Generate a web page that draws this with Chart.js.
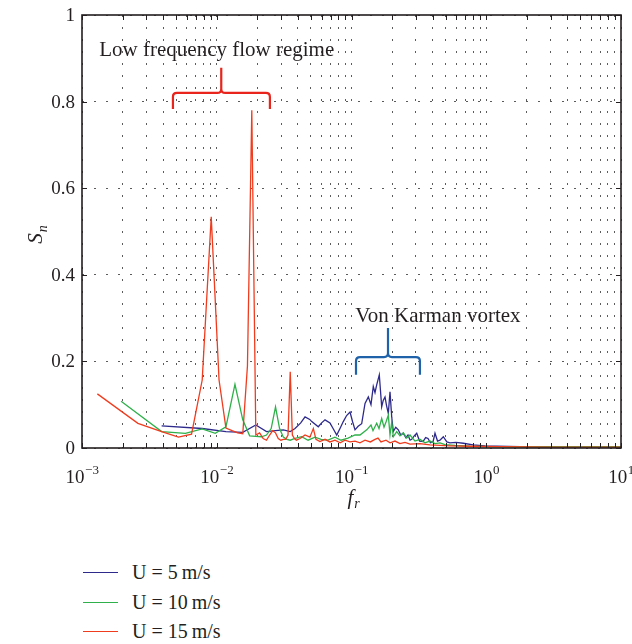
<!DOCTYPE html>
<html>
<head>
<meta charset="utf-8">
<script src="https://cdn.jsdelivr.net/npm/chart.js@4.4.0/dist/chart.umd.min.js"></script>
<style>
  html, body { margin: 0; padding: 0; background: #fff; }
  #wrap { position: relative; width: 632px; height: 644px; }
  #legend { position: absolute; left: 83px; top: 558px; font-family: "Liberation Serif", "DejaVu Serif", serif; font-size: 20px; color: #231f20; }
  .item { height: 29.5px; display: flex; align-items: center; white-space: pre; }
  .swatch { width: 35px; height: 0; border-top: 1.5px solid; margin-right: 14px; }
</style>
</head>
<body>
<div id="wrap">
  <canvas id="spectrumChart" width="632" height="530"></canvas>
  <div id="legend"></div>
</div>
<script>
// U = 5 m/s
const freq5 = [0.0039, 0.0078, 0.0117, 0.0156, 0.0195, 0.0234, 0.0273, 0.0312, 0.0351, 0.0381,
  0.0420, 0.0452, 0.0490, 0.0507, 0.0567, 0.0600, 0.0636, 0.0692, 0.0730, 0.0777,
  0.0830, 0.0869, 0.0920, 0.0975, 0.1020, 0.1062, 0.1120, 0.1190, 0.1260, 0.1333,
  0.1395, 0.1451, 0.1494, 0.1538, 0.1608, 0.1675, 0.1720, 0.1773, 0.1820, 0.1876,
  0.1931, 0.1990, 0.2043, 0.2130, 0.2225, 0.2320, 0.2423, 0.2530, 0.2626, 0.2720,
  0.2798, 0.2920, 0.3048, 0.3200, 0.3394, 0.3550, 0.3696, 0.3850, 0.4025, 0.4165,
  0.4350, 0.4538, 0.4801, 0.5100, 0.5383, 0.5965, 0.6756, 0.7974, 0.979, 1.196,
  1.78, 2.505, 4.183, 6.986, 10];
const sn5 = [0.051, 0.045, 0.038, 0.036, 0.053, 0.038, 0.040, 0.042, 0.038, 0.045,
  0.058, 0.072, 0.066, 0.061, 0.049, 0.058, 0.065, 0.058, 0.045, 0.030,
  0.048, 0.061, 0.075, 0.083, 0.060, 0.042, 0.050, 0.056, 0.103, 0.118,
  0.100, 0.142, 0.128, 0.146, 0.169, 0.095, 0.110, 0.118, 0.098, 0.080,
  0.130, 0.070, 0.038, 0.048, 0.042, 0.030, 0.034, 0.024, 0.030, 0.018,
  0.020, 0.028, 0.034, 0.016, 0.015, 0.024, 0.022, 0.012, 0.014, 0.034,
  0.016, 0.018, 0.026, 0.014, 0.012, 0.013, 0.011, 0.007, 0.005, 0.004,
  0.003, 0.002, 0.002, 0.002, 0.002];

// U = 10 m/s
const freq10 = [0.00195, 0.0039, 0.00585, 0.0078, 0.00975, 0.0117, 0.01365, 0.0156, 0.01755, 0.0195,
  0.02145, 0.0234, 0.02535, 0.0273, 0.02925, 0.0312, 0.03315, 0.0351, 0.0381, 0.0427,
  0.0476, 0.0536, 0.0594, 0.0669, 0.0754, 0.0836, 0.0942, 0.1062, 0.1156, 0.1297,
  0.1395, 0.1444, 0.1538, 0.1600, 0.1675, 0.1743, 0.1803, 0.1876, 0.1931, 0.1988,
  0.2043, 0.2165, 0.2290, 0.2423, 0.2568, 0.2718, 0.2960, 0.3220, 0.3512, 0.3824,
  0.4165, 0.4538, 0.4942, 0.5864, 0.7575, 1.066, 1.78, 3.5, 6.986, 10];
const sn10 = [0.108, 0.038, 0.034, 0.044, 0.034, 0.049, 0.147, 0.065, 0.028, 0.027,
  0.026, 0.030, 0.045, 0.095, 0.045, 0.025, 0.020, 0.018, 0.022, 0.026,
  0.018, 0.025, 0.020, 0.018, 0.025, 0.018, 0.023, 0.030, 0.030, 0.042,
  0.053, 0.040, 0.057, 0.045, 0.068, 0.048, 0.060, 0.076, 0.030, 0.060,
  0.026, 0.038, 0.028, 0.035, 0.023, 0.030, 0.016, 0.020, 0.012, 0.016,
  0.010, 0.012, 0.008, 0.006, 0.004, 0.003, 0.003, 0.003, 0.003, 0.003];

// U = 15 m/s
const freq15 = [0.0013, 0.0026, 0.0039, 0.0052, 0.0065, 0.0078, 0.0091, 0.0104, 0.0117, 0.0130,
  0.0143, 0.0156, 0.0169, 0.0182, 0.0195, 0.0208, 0.0221, 0.0234, 0.0247, 0.0260,
  0.0273, 0.0286, 0.0299, 0.0312, 0.0325, 0.0338, 0.0351, 0.0364, 0.0377, 0.0390,
  0.0415, 0.0452, 0.0491, 0.0521, 0.0545, 0.0583, 0.0636, 0.0692, 0.0754, 0.0824,
  0.0895, 0.0975, 0.1062, 0.1156, 0.1260, 0.1380, 0.1494, 0.1573, 0.1655, 0.1803,
  0.1931, 0.2103, 0.2290, 0.2495, 0.2718, 0.3220, 0.3824, 0.4538, 0.5383, 0.7575,
  1.265, 2.972, 10];
const sn15 = [0.125, 0.057, 0.038, 0.025, 0.032, 0.157, 0.534, 0.157, 0.046, 0.040,
  0.035, 0.033, 0.190, 0.780, 0.030, 0.035, 0.022, 0.018, 0.030, 0.040,
  0.035, 0.022, 0.018, 0.020, 0.020, 0.030, 0.176, 0.030, 0.022, 0.018,
  0.022, 0.030, 0.025, 0.045, 0.020, 0.015, 0.020, 0.014, 0.018, 0.012,
  0.018, 0.014, 0.016, 0.012, 0.018, 0.014, 0.020, 0.023, 0.014, 0.018,
  0.012, 0.016, 0.010, 0.013, 0.009, 0.010, 0.007, 0.006, 0.005, 0.004,
  0.003, 0.002, 0.002];

const seriesLabels = ['U = 5\u2009m/s', 'U = 10\u2009m/s', 'U = 15\u2009m/s'];
const seriesColors = ['#2d2a8c', '#2fb04a', '#f03c1e'];

const xTickValues = [0.001, 0.01, 0.1, 1, 10];
const xTickBase = ['10', '10', '10', '10', '10'];
const xTickExp = ['\u22123', '\u22122', '\u22121', '0', '1'];
const yTickValues = [0, 0.2, 0.4, 0.6, 0.8, 1];
const yTickLabels = ['0', '0.2', '0.4', '0.6', '0.8', '1'];

// annotation text and braces (data coordinates)
const notes = [
  { text: 'Low frequency flow regime', x: 0.0100, y: 0.905 },
  { text: 'Von Karman vortex', x: 0.438, y: 0.292 }
];
const braces = [
  { x0: 0.00473, xc: 0.0108, x1: 0.0248, yH: 0.82, yEnd: 0.783, yTop: 0.878, color: '#e8241c' },
  { x0: 0.108, xc: 0.1866, x1: 0.322, yH: 0.21, yEnd: 0.169, yTop: 0.277, color: '#1f62aa' }
];

const SERIF = '"Liberation Serif", "DejaVu Serif", serif';

function toPoints(fs, vs) {
  return fs.map((f, i) => ({ x: f, y: vs[i] }));
}

// minor + major grid positions on the log axis
const gridValues = [];
for (let e = -3; e < 1; e++) {
  for (let m = 1; m < 10; m++) gridValues.push(m * Math.pow(10, e));
}
gridValues.push(10);

const decorPlugin = {
  id: 'decor',
  afterDatasetsDraw(chart) {
    const { ctx, chartArea: a, scales } = chart;
    ctx.save();
    ctx.strokeStyle = '#231f20';
    ctx.lineWidth = 1;
    // inward tick marks
    ctx.beginPath();
    gridValues.forEach(v => {
      const px = Math.round(scales.x.getPixelForValue(v)) + 0.5;
      ctx.moveTo(px, a.bottom); ctx.lineTo(px, a.bottom - 5);
      ctx.moveTo(px, a.top); ctx.lineTo(px, a.top + 5);
    });
    yTickValues.forEach(v => {
      const py = Math.round(scales.y.getPixelForValue(v)) + 0.5;
      ctx.moveTo(a.left, py); ctx.lineTo(a.left + 5, py);
      ctx.moveTo(a.right, py); ctx.lineTo(a.right - 5, py);
    });
    ctx.stroke();
    // frame
    ctx.lineWidth = 1.6;
    ctx.strokeRect(a.left, a.top, a.right - a.left, a.bottom - a.top);

    // braces
    braces.forEach(b => {
      const x0 = scales.x.getPixelForValue(b.x0);
      const xc = scales.x.getPixelForValue(b.xc);
      const x1 = scales.x.getPixelForValue(b.x1);
      const yH = scales.y.getPixelForValue(b.yH);
      const yE = scales.y.getPixelForValue(b.yEnd);
      const yT = scales.y.getPixelForValue(b.yTop);
      const r = 4;
      ctx.strokeStyle = b.color;
      ctx.lineWidth = 2.2;
      ctx.beginPath();
      ctx.moveTo(x0, yE);
      ctx.lineTo(x0, yH + r);
      ctx.quadraticCurveTo(x0, yH, x0 + r, yH);
      ctx.lineTo(xc - r, yH);
      ctx.quadraticCurveTo(xc, yH, xc, yH - r);
      ctx.lineTo(xc, yT);
      ctx.moveTo(xc, yH - r);
      ctx.quadraticCurveTo(xc, yH, xc + r, yH);
      ctx.lineTo(x1 - r, yH);
      ctx.quadraticCurveTo(x1, yH, x1, yH + r);
      ctx.lineTo(x1, yE);
      ctx.stroke();
    });

    ctx.fillStyle = '#231f20';
    ctx.textAlign = 'center';
    ctx.textBaseline = 'alphabetic';
    ctx.font = '21px ' + SERIF;
    notes.forEach(n => {
      ctx.fillText(n.text, scales.x.getPixelForValue(n.x), scales.y.getPixelForValue(n.y));
    });

    // y tick labels
    ctx.textAlign = 'right';
    ctx.textBaseline = 'middle';
    ctx.font = '19px ' + SERIF;
    yTickValues.forEach((v, i) => {
      ctx.fillText(yTickLabels[i], a.left - 7, scales.y.getPixelForValue(v) + 1);
    });

    // x tick labels with superscripts
    ctx.textAlign = 'left';
    ctx.textBaseline = 'alphabetic';
    xTickValues.forEach((v, i) => {
      const px = scales.x.getPixelForValue(v);
      ctx.font = '19px ' + SERIF;
      const wb = ctx.measureText(xTickBase[i]).width;
      ctx.font = '13px ' + SERIF;
      const we = ctx.measureText(xTickExp[i]).width;
      const start = px - (wb + we) / 2;
      ctx.font = '19px ' + SERIF;
      ctx.fillText(xTickBase[i], start, a.bottom + 35);
      ctx.font = '13px ' + SERIF;
      ctx.fillText(xTickExp[i], start + wb + 0.5, a.bottom + 26);
    });

    // x axis title f_r
    const cx = (a.left + a.right) / 2 - 4;
    ctx.font = 'italic 21px ' + SERIF;
    const wf = ctx.measureText('f').width;
    ctx.fillText('f', cx, a.bottom + 56);
    ctx.font = 'italic 14px ' + SERIF;
    ctx.fillText('r', cx + wf + 1, a.bottom + 60);

    // y axis title S_n
    ctx.translate(42, (a.top + a.bottom) / 2 + 4);
    ctx.rotate(-Math.PI / 2);
    ctx.font = 'italic 21px ' + SERIF;
    const ws = ctx.measureText('S').width;
    ctx.fillText('S', -ws / 2 - 3, 0);
    ctx.font = 'italic 14px ' + SERIF;
    ctx.fillText('n', ws / 2 - 2, 5);
    ctx.restore();
  }
};

const gridStyle = { color: 'rgba(50,50,50,0.8)', lineWidth: 1, drawTicks: false };

new Chart(document.getElementById('spectrumChart').getContext('2d'), {
  type: 'line',
  data: {
    datasets: [
      { label: seriesLabels[0], data: toPoints(freq5, sn5), borderColor: seriesColors[0], order: 3 },
      { label: seriesLabels[1], data: toPoints(freq10, sn10), borderColor: seriesColors[1], order: 2 },
      { label: seriesLabels[2], data: toPoints(freq15, sn15), borderColor: seriesColors[2], order: 1 }
    ].map(d => Object.assign(d, { borderWidth: 1.3, pointRadius: 0, tension: 0, fill: false }))
  },
  options: {
    responsive: false,
    animation: false,
    devicePixelRatio: 1,
    layout: { padding: { left: 0, right: 11, top: 15, bottom: 0 } },
    plugins: { legend: { display: false }, tooltip: { enabled: false } },
    scales: {
      x: {
        type: 'logarithmic', min: 0.001, max: 10,
        ticks: { display: false },
        grid: gridStyle,
        border: { display: false, dash: [2, 10] },
        afterBuildTicks: s => { s.ticks = gridValues.map(v => ({ value: v })); },
        afterFit: s => { s.height = 82; }
      },
      y: {
        min: 0, max: 1,
        ticks: { display: false, stepSize: 0.2 },
        grid: gridStyle,
        border: { display: false, dash: [2, 10] },
        afterBuildTicks: s => { s.ticks = yTickValues.map(v => ({ value: v })); },
        afterFit: s => { s.width = 82; }
      }
    }
  },
  plugins: [decorPlugin]
});

const legend = document.getElementById('legend');
seriesLabels.forEach((label, i) => {
  const row = document.createElement('div');
  row.className = 'item';
  const sw = document.createElement('span');
  sw.className = 'swatch';
  sw.style.borderColor = seriesColors[i];
  row.appendChild(sw);
  row.appendChild(document.createTextNode(label));
  legend.appendChild(row);
});
</script>
</body>
</html>
